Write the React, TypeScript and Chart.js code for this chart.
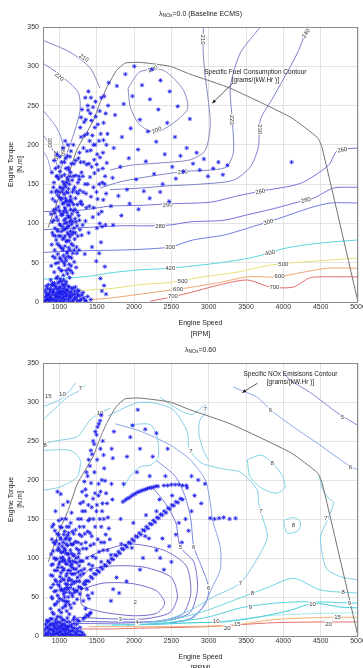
import React, { useEffect, useRef, useLayoutEffect } from "react";
import { Chart, registerables } from "chart.js";
Chart.register(...registerables);

type Pt = [number, number];
type Lbl = { t: string; x: number; y: number; r?: number };

const FONT = '"Liberation Sans", Arial, sans-serif';
const xTicks = [1000, 1500, 2000, 2500, 3000, 3500, 4000, 4500, 5000];
const yTicks = [0, 50, 100, 150, 200, 250, 300, 350];
const X_MIN = 780, X_MAX = 5000, Y_MIN = 0, Y_MAX = 350;

// max torque boundary (both panels)
const boundary: Pt[] = [[850,95],[1000,135],[1120,162],[1240,195],[1450,230],[1545,254],[1640,274],[1760,294],[1880,304],[2080,305],[2480,300],[2750,290],[3290,272],[4100,235],[4460,209],[4520,196],[5000,0]];

// ---------- top panel: specific fuel consumption contours ----------
const sfc200: Pt[] = [[1920,272],[2080,293],[2390,295],[2660,270],[2710,244],[2310,216],[2080,225],[1950,248],[1920,272]];
const sfc210: Pt[] = [[2927,350],[2927,317],[2954,286],[2994,257],[3021,225],[2954,193],[2753,181],[2350,177],[1948,174],[1679,168]];
const sfc210L: Pt[] = [[780,333],[1142,318],[1411,298],[1545,272]];
const sfc220: Pt[] = [[3692,350],[3424,317],[3290,274],[3316,232],[3330,190],[3222,171],[2659,166],[2216,160],[1813,153],[1545,145]];
const sfc220L: Pt[] = [[780,304],[1008,289],[1250,267],[1277,244],[1209,219],[1142,200],[1035,174],[981,155]];
const sfc230: Pt[] = [[4323,350],[4189,317],[3867,261],[3692,232],[3665,197],[3558,172],[3330,155],[2887,150],[2484,148],[2082,145],[1679,143]];
const sfc240L: Pt[] = [[780,244],[941,225],[1035,206],[1075,181]];
const sfc260L: Pt[] = [[780,213],[901,196],[968,174]];
const sfc280L: Pt[] = [[780,193],[847,181],[901,162]];
const sfc260: Pt[] = [[5000,196],[4725,193],[4605,174],[4229,151],[3692,141],[3383,135],[3021,127],[2484,125],[2082,123],[1679,122],[1300,117],[780,115]];
const sfc280: Pt[] = [[5000,146],[4672,145],[4403,132],[4189,127],[3920,120],[3518,111],[3196,104],[2753,102],[2484,98],[2216,97],[1813,97],[1400,95],[780,92]];
const sfc300: Pt[] = [[5000,126],[4631,126],[4363,120],[3960,107],[3558,95],[3196,85],[2793,79],[2484,70],[2082,67],[1746,66],[1200,65],[780,63]];
const sfc400: Pt[] = [[5000,79],[4497,75],[4054,69],[3598,57],[3155,50],[2484,43],[2082,41],[1679,37],[1411,33],[1180,31],[780,29]];
const sfc500: Pt[] = [[5000,56],[4269,51],[3826,47],[3383,38],[2927,32],[2484,25],[2082,22],[1679,17],[1320,15],[1100,13]];
const sfc600: Pt[] = [[5000,43],[4591,43],[4269,38],[3920,32],[3518,32],[3155,25],[2712,18],[2484,15],[2082,10],[1679,5],[1400,3]];
const sfc700: Pt[] = [[5000,32],[4725,32],[4363,31],[4135,19],[3826,19],[3518,28],[3155,22],[2712,11],[2484,6],[2216,1]];

const sfcLabels: Lbl[] = [
  { t: "200", x: 2250, y: 297, r: -20 }, { t: "200", x: 2300, y: 219, r: -25 },
  { t: "210", x: 2930, y: 334, r: 90 }, { t: "220", x: 3316, y: 232, r: 90 }, { t: "230", x: 3690, y: 220, r: 90 },
  { t: "240", x: 4300, y: 342, r: -60 },
  { t: "210", x: 1330, y: 311, r: 35 }, { t: "220", x: 1000, y: 287, r: 40 },
  { t: "210", x: 2650, y: 166, r: -5 }, { t: "260", x: 4790, y: 194, r: -10 },
  { t: "260", x: 2450, y: 124, r: -5 }, { t: "260", x: 3690, y: 141, r: -10 },
  { t: "280", x: 4300, y: 130, r: -15 }, { t: "300", x: 3800, y: 102, r: -14 },
  { t: "280", x: 2350, y: 97, r: 0 }, { t: "300", x: 2484, y: 70, r: 0 },
  { t: "400", x: 3820, y: 63, r: -10 }, { t: "420", x: 2484, y: 43, r: 0 },
  { t: "500", x: 4000, y: 49, r: 0 }, { t: "600", x: 3950, y: 33, r: 0 }, { t: "700", x: 3880, y: 19, r: 0 },
  { t: "500", x: 2650, y: 27, r: 0 }, { t: "600", x: 2590, y: 17, r: 0 }, { t: "700", x: 2520, y: 8, r: 0 },
  { t: "300", x: 880, y: 203, r: 90 }, { t: "280", x: 955, y: 186, r: 90 }, { t: "260", x: 1055, y: 192, r: 90 },
];

const topIdle: Pt[] = [[805,1],[812,6],[820,12],[835,3],[842,17],[855,9],[861,0],[874,14],[883,5],[896,21],[902,2],[915,10],[923,16],[931,4],[944,8],[952,19],[960,0],[968,12],[977,3],[985,15],[993,7],[1004,1],[1011,18],[1019,10],[1027,4],[1036,13],[1045,22],[1052,6],[1063,0],[1071,11],[1084,16],[1092,3],[1105,8],[1117,20],[1126,1],[1138,12],[1151,5],[1163,17],[1177,9],[1189,2],[1204,14],[1221,6],[1238,11],[1252,1],[1270,8],[1293,4],[1315,12],[1342,2],[1378,7],[1420,3],[828,9],[868,5],[909,13],[957,6],[1002,11],[1058,3],[1098,14],[1145,9],[1196,5],[1246,15]];
const topIdle2: Pt[] = [[808,15],[816,2],[824,20],[832,8],[846,4],[851,22],[864,11],[871,2],[880,17],[892,8],[905,24],[913,3],[920,13],[938,21],[947,1],[955,10],[964,17],[972,7],[981,24],[990,12],[999,19],[1008,6],[1016,14],[1024,26],[1033,0],[1042,9],[1050,17],[1059,13],[1068,20],[1077,7],[1088,23],[1096,10],[1109,15],[1121,4],[1133,19],[1142,7],[1157,13],[1170,1],[1184,18],[1199,10],[1214,19],[1229,3],[1244,8],[1262,14],[1280,2],[1302,9],[1330,5],[1360,1]];
const topCol: Pt[] = [[884,28],[891,46],[897,73],[903,102],[909,131],[914,58],[918,85],[922,117],[927,152],[931,38],[936,66],[940,94],[944,128],[948,170],[952,49],[957,79],[961,108],[965,142],[969,188],[973,32],[977,61],[981,90],[985,121],[989,157],[993,43],[997,72],[1001,99],[1004,133],[1008,166],[1011,29],[1015,55],[1018,84],[1022,112],[1025,145],[1029,178],[1032,40],[1036,68],[1039,96],[1042,125],[1046,153],[1049,196],[1052,34],[1055,59],[1058,81],[1061,104],[1064,137],[1067,162],[1070,47],[1073,71],[1076,93],[1079,118],[1082,147],[1085,183],[1088,26],[1091,53],[1094,77],[1097,101],[1100,129],[1103,158],[1106,64],[1109,88],[1112,110],[1115,139],[1118,171],[1121,42],[1124,69],[1127,97],[1130,123],[1133,150],[1136,31],[1139,57],[1142,83],[1145,108],[1148,134],[1151,165],[1154,192],[1157,46],[1160,74],[1164,99],[1167,127],[1171,155],[1175,37],[1179,62],[1183,89],[1187,116],[1191,143],[1195,176],[1199,51],[1204,80],[1209,106],[1214,132],[1219,161],[1224,44],[1230,70],[1236,97],[1242,124],[1248,152],[1255,183],[1262,66],[1046,22],[1078,205],[1113,200],[1003,185],[968,160],[1140,185],[1186,200],[1059,115],[1093,140],[1126,86],[1071,100],[1101,62],[1035,132],[1150,118],[1063,150],[1119,155],[1084,128]];
const topCol2: Pt[] = [[887,112],[893,140],[899,165],[906,88],[912,22],[919,146],[925,104],[929,180],[934,24],[939,113],[942,56],[946,84],[950,140],[955,118],[959,30],[963,160],[967,92],[971,74],[975,136],[979,104],[983,50],[987,172],[991,84],[995,140],[999,26],[1002,116],[1006,56],[1009,146],[1013,98],[1016,70],[1020,130],[1023,40],[1027,160],[1030,90],[1033,110],[1037,52],[1040,140],[1043,80],[1047,112],[1050,66],[1053,144],[1056,28],[1059,126],[1062,92],[1065,50],[1068,178],[1072,120],[1075,84],[1078,56],[1081,132],[1084,106],[1087,170],[1090,40],[1093,94],[1096,152],[1099,114],[1102,78],[1105,186],[1108,36],[1111,124],[1114,96],[1117,58],[1120,144],[1123,108],[1126,168],[1129,78],[1132,48],[1135,128],[1138,102],[1141,160],[1144,66],[1147,90],[1150,40],[1153,130],[1156,104],[1159,176],[1163,56],[1166,112],[1170,86],[1174,140],[1178,102],[1182,72],[1186,160],[1190,124],[1194,94],[1198,66],[1203,146],[1208,118],[1213,88],[1218,180],[1223,102],[1228,140],[1233,62],[1239,114],[1245,84],[1251,138],[1258,110],[1266,156],[1274,92],[1282,126]];
const topMid: Pt[] = [[1268,104],[1275,142],[1283,178],[1291,210],[1298,85],[1306,124],[1314,160],[1322,196],[1331,229],[1340,61],[1349,103],[1357,138],[1366,175],[1375,214],[1384,244],[1392,88],[1401,122],[1410,159],[1419,193],[1428,231],[1437,70],[1447,108],[1456,146],[1466,181],[1475,222],[1484,255],[1494,52],[1503,94],[1512,131],[1521,168],[1530,205],[1540,243],[1549,30],[1557,76],[1566,115],[1575,152],[1584,190],[1592,228],[1601,262],[1609,45],[1617,98],[1626,138],[1635,177],[1644,214],[1652,250],[1661,279],[1569,14],[1598,21],[1625,10],[1533,62],[1588,130],[1612,160],[1540,100],[1500,175],[1455,200],[1422,260],[1380,250],[1347,260],[1290,235],[1620,240]];
const topMid2: Pt[] = [[1262,160],[1270,190],[1279,222],[1287,128],[1296,165],[1303,245],[1311,98],[1319,140],[1327,178],[1336,212],[1344,150],[1353,232],[1361,120],[1370,192],[1379,150],[1388,268],[1396,176],[1405,205],[1414,240],[1423,134],[1432,172],[1441,212],[1450,248],[1459,120],[1469,164],[1478,200],[1487,236],[1497,140],[1506,188],[1515,226],[1525,112],[1534,150],[1543,184],[1553,214],[1562,260],[1572,96],[1581,170],[1590,206],[1606,150],[1630,200]];
const topUpper: Pt[] = [[1690,122],[1712,158],[1728,196],[1745,238],[1770,275],[1790,135],[1815,172],[1838,210],[1861,252],[1884,290],[1905,143],[1930,183],[1955,221],[1978,262],[2003,300],[2028,156],[2054,194],[2079,232],[2106,276],[2131,141],[2158,179],[2186,217],[2213,258],[2240,296],[2268,163],[2297,204],[2325,245],[2354,282],[2383,150],[2412,188],[2445,228],[2478,268],[2512,172],[2548,210],[2585,249],[2622,186],[2661,166],[2705,196],[2747,233],[2790,176],[2838,190],[2880,168],[2935,182],[2990,160],[3060,170],[3130,178],[3190,162],[3250,174],[4110,178],[1720,98],[1830,110],[1940,125],[2060,118],[2210,132],[2350,140],[2560,157],[2470,128]];

// ---------- bottom panel: specific NOx contours ----------
const noxTL1: Pt[] = [[780,277],[968,294],[1102,306],[1277,315],[1350,322]];
const noxTL2: Pt[] = [[780,294],[1008,303],[1142,315],[1220,325]];
const noxTL3: Pt[] = [[780,247],[1008,251],[1236,255],[1317,264],[1411,277],[1545,286],[1679,292]];
const noxLobe: Pt[] = [[780,238],[1142,238],[1277,226],[1236,204],[1008,191],[780,187]];
const nox7: Pt[] = [[1650,282],[1813,290],[2041,299],[2256,299],[2525,290],[2712,262],[2740,240],[2900,222],[3200,214],[3424,210],[3652,187],[3665,171],[3732,149],[3786,127],[3692,106],[3424,68],[3061,50],[2753,33],[2444,21],[2100,17]];
const noxK: Pt[] = [[1948,271],[2216,271],[2310,255],[2323,229],[2216,219],[2082,217],[1950,205],[1850,190]];
const noxHook: Pt[] = [[2350,306],[2600,290],[2780,284],[2950,296],[2980,290],[2880,276],[2870,258],[2930,238],[3000,225]];
const nox8a: Pt[] = [[3518,226],[3700,232],[3850,222],[3990,205],[4020,190],[3900,183],[3700,190],[3550,205],[3518,226]];
const nox8b: Pt[] = [[4000,148],[4135,152],[4230,146],[4200,135],[4050,132],[4000,148]];
const nox7R: Pt[] = [[4480,205],[4520,190],[4591,178],[4672,171],[4591,149],[4497,127],[4537,97],[4591,85],[4766,76],[5000,72]];
const nox8: Pt[] = [[5000,55],[4497,59],[4135,74],[3786,62],[3424,49],[2981,33],[2525,21],[2200,16]];
const nox9: Pt[] = [[5000,42],[4323,44],[3867,42],[3424,36],[2981,24],[2525,18],[2200,15]];
const nox10: Pt[] = [[5000,36],[4766,37],[4403,42],[4095,33],[3652,24],[3196,18],[2753,17],[2300,15],[1700,14]];
const nox12: Pt[] = [[5000,30],[4500,29],[3800,26],[3200,19],[2600,16],[2000,15],[1500,14]];
const nox15: Pt[] = [[5000,24],[4591,24],[3867,21],[3330,14],[2525,12],[1813,12],[1400,12]];
const nox20: Pt[] = [[5000,18],[4591,18],[3867,17],[2981,12],[2082,10],[1679,9],[1300,9]];
const nox2: Pt[] = [[1290,60],[1600,68],[1990,67],[2300,58],[2410,42],[2300,29],[1990,26],[1560,31],[1300,40],[1290,60]];
const nox3: Pt[] = [[1250,24],[1700,22],[2150,22],[2480,30],[2580,50],[2500,75],[2150,88],[1750,90],[1400,85],[1250,70]];
const nox4: Pt[] = [[1200,19],[1800,18],[2300,19],[2650,28],[2760,55],[2700,90],[2400,110],[1950,118],[1600,110],[1350,100]];
const nox5: Pt[] = [[1250,16],[2000,17],[2450,20],[2750,30],[2850,60],[2800,95],[2620,114],[2560,145],[2420,170],[2250,190]];
const nox6: Pt[] = [[1900,14],[2700,20],[2950,40],[3000,62],[2900,90],[2800,114],[2760,150],[2680,180],[2550,205],[2300,225]];
const nox6b: Pt[] = [[2500,17],[2800,24],[2950,42],[3050,63],[3155,85],[3155,114],[3050,149],[3021,171],[2954,200],[2753,226],[2480,245],[2100,262],[1750,272]];
const nox6UR: Pt[] = [[3330,319],[3652,306],[3826,290],[4135,268],[4457,247],[4900,217],[5000,213]];
const nox5UR: Pt[] = [[4000,338],[4095,328],[4363,312],[4725,286],[5000,270]];

const noxLabels: Lbl[] = [
  { t: "15", x: 850, y: 308 }, { t: "10", x: 1040, y: 310 }, { t: "7", x: 1280, y: 318 },
  { t: "8", x: 810, y: 245 }, { t: "10", x: 1545, y: 286 }, { t: "7", x: 2954, y: 291 },
  { t: "7", x: 2760, y: 238 }, { t: "7", x: 3700, y: 160 }, { t: "8", x: 3850, y: 222 },
  { t: "8", x: 4135, y: 142 }, { t: "7", x: 4570, y: 152 }, { t: "7", x: 3424, y: 68 },
  { t: "8", x: 3585, y: 55 }, { t: "9", x: 3560, y: 38 }, { t: "10", x: 4390, y: 41 },
  { t: "8", x: 4800, y: 57 }, { t: "9", x: 4886, y: 42 }, { t: "10", x: 3100, y: 19 },
  { t: "15", x: 3383, y: 15 }, { t: "20", x: 3249, y: 11 }, { t: "15", x: 4725, y: 24 }, { t: "20", x: 4605, y: 16 },
  { t: "2", x: 2015, y: 44 }, { t: "3", x: 1813, y: 22 }, { t: "4", x: 2041, y: 18 },
  { t: "5", x: 2620, y: 114 }, { t: "6", x: 2800, y: 114 }, { t: "6", x: 3000, y: 62 },
  { t: "6", x: 3826, y: 290 }, { t: "6", x: 4900, y: 217 }, { t: "5", x: 4792, y: 281 },
];

const botIdle: Pt[] = [[803,0],[818,4],[826,11],[839,18],[847,1],[858,7],[866,14],[879,22],[887,3],[898,9],[906,16],[917,0],[925,6],[934,12],[946,19],[953,2],[962,8],[971,14],[979,25],[988,4],[996,10],[1007,0],[1014,17],[1023,6],[1031,12],[1040,21],[1048,3],[1057,9],[1066,15],[1074,0],[1083,5],[1092,11],[1101,18],[1110,2],[1122,8],[1133,13],[1145,0],[1156,6],[1168,11],[1181,1],[1195,16],[1207,5],[1222,0],[1236,9],[1250,2],[1266,0],[1281,6],[1297,1],[1320,22],[1342,24],[1365,27],[1390,26],[1410,29],[1200,24],[1240,21],[1320,45],[1350,35],[1380,52],[1420,30],[1440,55]];
const botIdle2: Pt[] = [[806,8],[814,15],[823,2],[831,20],[843,11],[853,4],[862,19],[872,9],[883,14],[892,1],[901,22],[911,7],[920,14],[929,3],[938,10],[950,16],[958,22],[966,4],[975,10],[983,18],[992,0],[1001,6],[1010,13],[1019,24],[1027,2],[1036,9],[1044,15],[1053,0],[1062,20],[1070,7],[1079,13],[1088,2],[1097,9],[1106,23],[1116,12],[1127,5],[1139,18],[1150,2],[1162,14],[1175,7],[1188,21],[1201,10],[1215,3],[1230,15],[1245,6],[1260,19],[1275,11],[1290,0],[1310,4],[1335,1]];
const botCol: Pt[] = [[882,35],[888,62],[893,91],[899,124],[905,48],[910,77],[916,109],[921,143],[926,28],[932,57],[937,84],[943,118],[948,160],[953,41],[959,70],[964,99],[970,131],[975,52],[981,88],[986,113],[991,148],[996,33],[1001,64],[1006,95],[1011,126],[1016,59],[1021,81],[1026,107],[1031,139],[1036,46],[1041,73],[1046,101],[1051,120],[1056,54],[1061,86],[1066,112],[1071,134],[1076,38],[1081,67],[1086,93],[1091,118],[1096,62],[1101,80],[1106,105],[1111,129],[1116,44],[1121,71],[1126,97],[1131,123],[1136,56],[1141,84],[1146,110],[1151,145],[1156,36],[1161,66],[1166,92],[1171,117],[1176,51],[1181,79],[1186,103],[1191,131],[1196,42],[1201,68],[1207,95],[1213,121],[1219,58],[1225,86],[1231,112],[1237,47],[1243,75],[1250,101],[1257,63],[1264,90],[1272,54],[1280,78],[1049,168],[1018,182],[1088,150],[1112,172],[1163,158],[974,185],[1025,30],[1133,28],[1064,45],[1098,32],[1045,58],[1078,110],[1108,66],[1128,140],[1058,98],[1090,77],[1140,95],[1004,110],[1034,88],[1069,60],[1118,50],[1153,72],[1093,126],[1038,115],[1010,76],[1082,40],[1122,105],[1172,88],[1188,60],[1143,125]];
const botCol2: Pt[] = [[885,78],[891,105],[896,50],[902,140],[907,30],[913,92],[918,66],[924,120],[929,100],[935,40],[940,135],[945,72],[950,98],[956,58],[961,122],[967,84],[972,110],[978,44],[983,66],[988,130],[993,92],[998,118],[1003,48],[1008,140],[1013,70],[1018,100],[1023,124],[1028,60],[1033,150],[1038,96],[1043,36],[1048,84],[1053,108],[1058,130],[1063,72],[1068,50],[1073,96],[1078,124],[1083,56],[1088,106],[1093,44],[1098,140],[1103,92],[1108,116],[1113,60],[1118,84],[1123,132],[1128,74],[1133,100],[1138,40],[1143,62],[1148,90],[1153,118],[1158,80],[1163,106],[1168,54],[1173,134],[1178,96],[1183,70],[1188,118],[1193,86],[1198,104],[1204,56],[1210,80],[1216,136],[1222,100],[1228,70],[1234,94],[1240,58],[1247,120],[1254,82],[1261,106],[1268,70],[1276,96],[1284,62],[1292,84]];
const botMid: Pt[] = [[1290,150],[1305,185],[1318,172],[1334,198],[1349,188],[1363,210],[1378,205],[1392,226],[1408,218],[1421,238],[1437,233],[1452,250],[1466,246],[1481,262],[1497,258],[1511,268],[1528,272],[1545,276],[1560,283],[1580,250],[1592,232],[1600,215],[1612,199],[1625,183],[1638,170],[1650,152],[1662,138],[1675,124],[1700,240],[1715,228],[1730,262],[1698,195],[1710,175],[1292,118],[1315,96],[1340,131],[1362,112],[1387,148],[1410,132],[1433,165],[1455,150],[1478,183],[1502,168],[1524,195],[1550,185],[1572,160],[1320,80],[1345,70],[1368,60],[1396,48],[1420,85],[1445,102],[1250,150],[1270,130],[1560,140],[1600,120]];
const botMid2: Pt[] = [[1262,110],[1271,140],[1280,170],[1289,96],[1298,128],[1307,160],[1316,112],[1325,140],[1334,86],[1343,160],[1352,120],[1361,180],[1370,100],[1379,134],[1388,168],[1397,92],[1406,150],[1415,116],[1424,196],[1433,128],[1442,90],[1451,176],[1460,118],[1469,210],[1478,140],[1487,100],[1496,160],[1505,226],[1514,124],[1523,180],[1532,108],[1541,150],[1550,240],[1559,120],[1568,200],[1577,170],[1586,110],[1595,150],[1620,130],[1645,110]];
const botBand: Pt[] = [[1296,61],[1322,67],[1347,66],[1369,71],[1394,70],[1418,76],[1441,74],[1463,80],[1488,79],[1509,84],[1533,82],[1556,88],[1578,86],[1604,91],[1627,90],[1650,96],[1672,94],[1697,99],[1719,98],[1743,104],[1766,103],[1790,108],[1812,106],[1835,112],[1858,111],[1881,116],[1906,114],[1928,120],[1952,119],[1975,124],[1999,122],[2022,128],[2046,127],[2069,132],[2093,130],[2117,136],[2140,135],[2164,140],[2188,138],[2211,144],[2236,143],[2259,148],[2283,146],[2307,152],[2330,151],[2355,156],[2380,155],[2404,160],[2429,158],[2455,164],[2480,163],[2506,168],[2532,167],[2560,172],[2588,171],[2620,176],[2650,175],[1560,95],[1690,104],[1830,118],[1970,113],[2150,128],[2300,160]];
const botBand2: Pt[] = [[1850,172],[1880,174],[1905,176],[1932,177],[1958,179],[1985,181],[2012,182],[2040,184],[2066,185],[2093,186],[2121,187],[2150,188],[2178,189],[2206,190],[2235,190],[2262,191],[2292,192],[2320,192],[2400,193],[2450,193],[2500,194],[2550,194],[2600,194],[2650,193],[2700,193]];
const botSparse: Pt[] = [[1720,60],[1765,75],[1820,150],[1860,195],[1905,230],[1950,255],[1990,145],[2040,210],[2080,240],[2120,100],[2160,155],[2210,205],[2250,230],[2300,110],[2340,175],[2380,125],[2420,205],[2470,115],[2510,180],[2560,130],[2600,145],[2640,120],[2690,150],[2730,135],[2770,160],[2810,180],[2860,200],[2900,170],[2950,195],[3020,151],[3080,150],[3140,151],[3200,152],[3280,150],[3360,151],[2710,190],[2770,205],[2050,290],[1980,270],[2150,265],[2300,260],[2450,240],[2200,125],[2350,100],[2500,95],[2400,85],[2080,85],[1900,70],[1800,55],[1690,45]];

type Contour = { pts: Pt[]; color: string };
type PanelCfg = {
  height: number; padTop: number; axisH: number;
  titleRest: string; contours: Contour[]; points: Pt[][]; labels: Lbl[];
  note: string[]; noteAt: Pt; arrowFrom: Pt; arrowTo: Pt;
};

const topCfg: PanelCfg = {
  height: 340, padTop: 27, axisH: 38, titleRest: "=0.0 (Baseline ECMS)",
  contours: [
    { pts: sfc200, color: "#8a8cc2" }, { pts: sfc210, color: "#8088c0" }, { pts: sfc210L, color: "#8088c0" },
    { pts: sfc220, color: "#7c84c8" }, { pts: sfc220L, color: "#8088c4" }, { pts: sfc230, color: "#7a80cc" },
    { pts: sfc240L, color: "#8890d8" }, { pts: sfc260L, color: "#8c94dc" }, { pts: sfc280L, color: "#96a0e0" },
    { pts: sfc260, color: "#7474d8" }, { pts: sfc280, color: "#7070dc" }, { pts: sfc300, color: "#6e7ae0" },
    { pts: sfc400, color: "#58d6e2" }, { pts: sfc500, color: "#e6e07a" }, { pts: sfc600, color: "#f0a46c" },
    { pts: sfc700, color: "#e46a6a" },
  ],
  points: [topIdle, topIdle2, topCol, topCol2, topMid, topMid2, topUpper], labels: sfcLabels,
  note: ["Specific Fuel Consumption Contour", "[grams/(kW.Hr )]"], noteAt: [3625, 292],
  arrowFrom: [3316, 278], arrowTo: [3048, 253],
};

const botCfg: PanelCfg = {
  height: 328, padTop: 23, axisH: 32, titleRest: "=0.60",
  contours: [
    { pts: noxTL1, color: "#86cfe6" }, { pts: noxTL2, color: "#86cfe6" }, { pts: noxTL3, color: "#86cfe6" },
    { pts: noxLobe, color: "#86cfe6" }, { pts: nox7, color: "#80cde6" }, { pts: noxK, color: "#86cfe6" },
    { pts: noxHook, color: "#86cfe6" }, { pts: nox8a, color: "#7ed4e6" }, { pts: nox8b, color: "#7ed4e6" },
    { pts: nox7R, color: "#80cde6" }, { pts: nox8, color: "#6cd4e0" }, { pts: nox9, color: "#52d2dc" },
    { pts: nox10, color: "#3ecfd8" }, { pts: nox12, color: "#a8e8ee" }, { pts: nox15, color: "#f0b070" },
    { pts: nox20, color: "#e07070" }, { pts: nox2, color: "#7468cc" }, { pts: nox3, color: "#7468cc" },
    { pts: nox4, color: "#7670d0" }, { pts: nox5, color: "#7670d4" }, { pts: nox6, color: "#7a86dc" },
    { pts: nox6b, color: "#8aa2e4" }, { pts: nox6UR, color: "#8aa6e6" }, { pts: nox5UR, color: "#8c80d8" },
  ],
  points: [botIdle, botIdle2, botCol, botCol2, botMid, botMid2, botBand, botBand2, botSparse], labels: noxLabels,
  note: ["Specific NOx Emisisons Contour", "[grams/(kW.Hr )]"], noteAt: [4095, 336],
  arrowFrom: [3652, 324], arrowTo: [3450, 312],
};

function Panel({ cfg }: { cfg: PanelCfg }) {
  const ref = useRef<HTMLCanvasElement>(null);
  useEffect(() => {
    const canvas = ref.current!;
    const toXY = (p: Pt[]) => p.map(([x, y]) => ({ x, y }));
    const datasets: any[] = [];
    cfg.contours.forEach((c) => datasets.push({
      data: toXY(c.pts), showLine: true, borderColor: c.color, borderWidth: 1,
      pointRadius: 0, tension: 0.25, fill: false, order: 3,
    }));
    datasets.push({ data: toXY(boundary), showLine: true, borderColor: "#727272", borderWidth: 1, pointRadius: 0, tension: 0.15, order: 2 });
    cfg.points.forEach((p) => datasets.push({
      data: toXY(p), showLine: false, pointStyle: "star", pointRadius: 2.2, borderWidth: 0.9,
      borderColor: "rgba(25,25,235,0.85)", backgroundColor: "rgba(25,25,235,0.85)", order: 1, isPts: true,
    }));

    const decor = {
      id: "decor",
      beforeDatasetsDraw(chart: any) { chart.$lblDone = false; },
      beforeDatasetDraw(chart: any, args: any) {
        if (chart.$lblDone || !chart.data.datasets[args.index].isPts) return;
        chart.$lblDone = true;
        const { ctx, chartArea: a, scales } = chart;
        ctx.save();
        ctx.beginPath(); ctx.rect(a.left, a.top, a.right - a.left, a.bottom - a.top); ctx.clip();
        ctx.font = `6px ${FONT}`; ctx.textAlign = "center"; ctx.textBaseline = "middle";
        cfg.labels.forEach((l) => {
          const px = scales.x.getPixelForValue(l.x), py = scales.y.getPixelForValue(l.y);
          ctx.save(); ctx.translate(px, py); ctx.rotate(((l.r || 0) * Math.PI) / 180);
          const w = ctx.measureText(l.t).width;
          ctx.fillStyle = "#ffffff"; ctx.fillRect(-w / 2 - 0.5, -3, w + 1, 6);
          ctx.fillStyle = "#3a3a3a"; ctx.fillText(l.t, 0, 0.5);
          ctx.restore();
        });
        ctx.restore();
      },
      afterDraw(chart: any) {
        const { ctx, chartArea: a, scales } = chart;
        ctx.save();
        ctx.strokeStyle = "#8a8a8a"; ctx.lineWidth = 1;
        ctx.strokeRect(a.left + 0.5, a.top + 0.5, a.right - a.left - 1, a.bottom - a.top);
        const cx = (a.left + a.right) / 2, ty = a.top - 13;
        ctx.fillStyle = "#222"; ctx.textBaseline = "middle";
        const f1 = `7px ${FONT}`, f2 = `5px ${FONT}`;
        ctx.font = f1; const wL = ctx.measureText("λ").width; const wR = ctx.measureText(cfg.titleRest).width;
        ctx.font = f2; const wS = ctx.measureText("NOx").width;
        let x0 = cx - (wL + wS + wR) / 2;
        ctx.textAlign = "left";
        ctx.font = f1; ctx.fillText("λ", x0, ty); x0 += wL;
        ctx.font = f2; ctx.fillText("NOx", x0, ty + 2); x0 += wS;
        ctx.font = f1; ctx.fillText(cfg.titleRest, x0, ty);
        ctx.textAlign = "center"; ctx.font = `7px ${FONT}`;
        ctx.fillText("Engine Speed", cx, a.bottom + 21);
        ctx.fillText("[RPM]", cx, a.bottom + 32);
        const cy = (a.top + a.bottom) / 2;
        ctx.save(); ctx.translate(11, cy); ctx.rotate(-Math.PI / 2); ctx.fillText("Engine Torque", 0, 0); ctx.restore();
        ctx.save(); ctx.translate(20, cy); ctx.rotate(-Math.PI / 2); ctx.fillText("[N.m]", 0, 0); ctx.restore();
        const nx = scales.x.getPixelForValue(cfg.noteAt[0]), ny = scales.y.getPixelForValue(cfg.noteAt[1]);
        ctx.font = `6.5px ${FONT}`; ctx.fillStyle = "#222";
        ctx.fillText(cfg.note[0], nx, ny);
        ctx.fillText(cfg.note[1], nx, ny + 8);
        const ax = scales.x.getPixelForValue(cfg.arrowFrom[0]), ay = scales.y.getPixelForValue(cfg.arrowFrom[1]);
        const bx = scales.x.getPixelForValue(cfg.arrowTo[0]), by = scales.y.getPixelForValue(cfg.arrowTo[1]);
        ctx.strokeStyle = "#333"; ctx.lineWidth = 0.8;
        ctx.beginPath(); ctx.moveTo(ax, ay); ctx.lineTo(bx, by); ctx.stroke();
        const ang = Math.atan2(by - ay, bx - ax);
        ctx.fillStyle = "#111"; ctx.beginPath();
        ctx.moveTo(bx, by);
        ctx.lineTo(bx - 4 * Math.cos(ang - 0.4), by - 4 * Math.sin(ang - 0.4));
        ctx.lineTo(bx - 4 * Math.cos(ang + 0.4), by - 4 * Math.sin(ang + 0.4));
        ctx.closePath(); ctx.fill();
        ctx.restore();
      },
    };

    const tickFont = { family: FONT, size: 7 };
    const chart = new Chart(canvas, {
      type: "scatter",
      data: { datasets },
      options: {
        responsive: false, animation: false, devicePixelRatio: 1,
        layout: { padding: { top: cfg.padTop, right: 5, left: 0, bottom: 0 } },
        plugins: { legend: { display: false }, tooltip: { enabled: false }, title: { display: false } },
        scales: {
          x: {
            type: "linear", min: X_MIN, max: X_MAX,
            afterBuildTicks: (s: any) => { s.ticks = xTicks.map((v) => ({ value: v })); },
            afterFit: (s: any) => { s.height = cfg.axisH; s.paddingLeft = 0; s.paddingRight = 0; },
            ticks: { font: tickFont, color: "#333", padding: 1, maxRotation: 0, autoSkip: false, callback: (v: any) => String(v) },
            grid: { color: "#dcdcdc", lineWidth: 0.8, drawTicks: false },
            border: { display: false },
          },
          y: {
            type: "linear", min: Y_MIN, max: Y_MAX,
            afterBuildTicks: (s: any) => { s.ticks = yTicks.map((v) => ({ value: v })); },
            afterFit: (s: any) => { s.width = 43; s.paddingTop = 0; s.paddingBottom = 0; },
            ticks: { font: tickFont, color: "#333", padding: 4, autoSkip: false, callback: (v: any) => String(v) },
            grid: { color: "#dcdcdc", lineWidth: 0.8, drawTicks: false },
            border: { display: false },
          },
        },
      } as any,
      plugins: [decor as any],
    });
    return () => chart.destroy();
  }, []);
  return <canvas ref={ref} width={363} height={cfg.height} style={{ display: "block", width: 363, height: cfg.height }} />;
}

export default function App() {
  useLayoutEffect(() => {
    document.body.style.margin = "0";
    document.body.style.background = "#ffffff";
  }, []);
  return (
    <div style={{ width: 363, height: 668, overflow: "hidden", background: "#fff" }}>
      <Panel cfg={topCfg} />
      <Panel cfg={botCfg} />
    </div>
  );
}
